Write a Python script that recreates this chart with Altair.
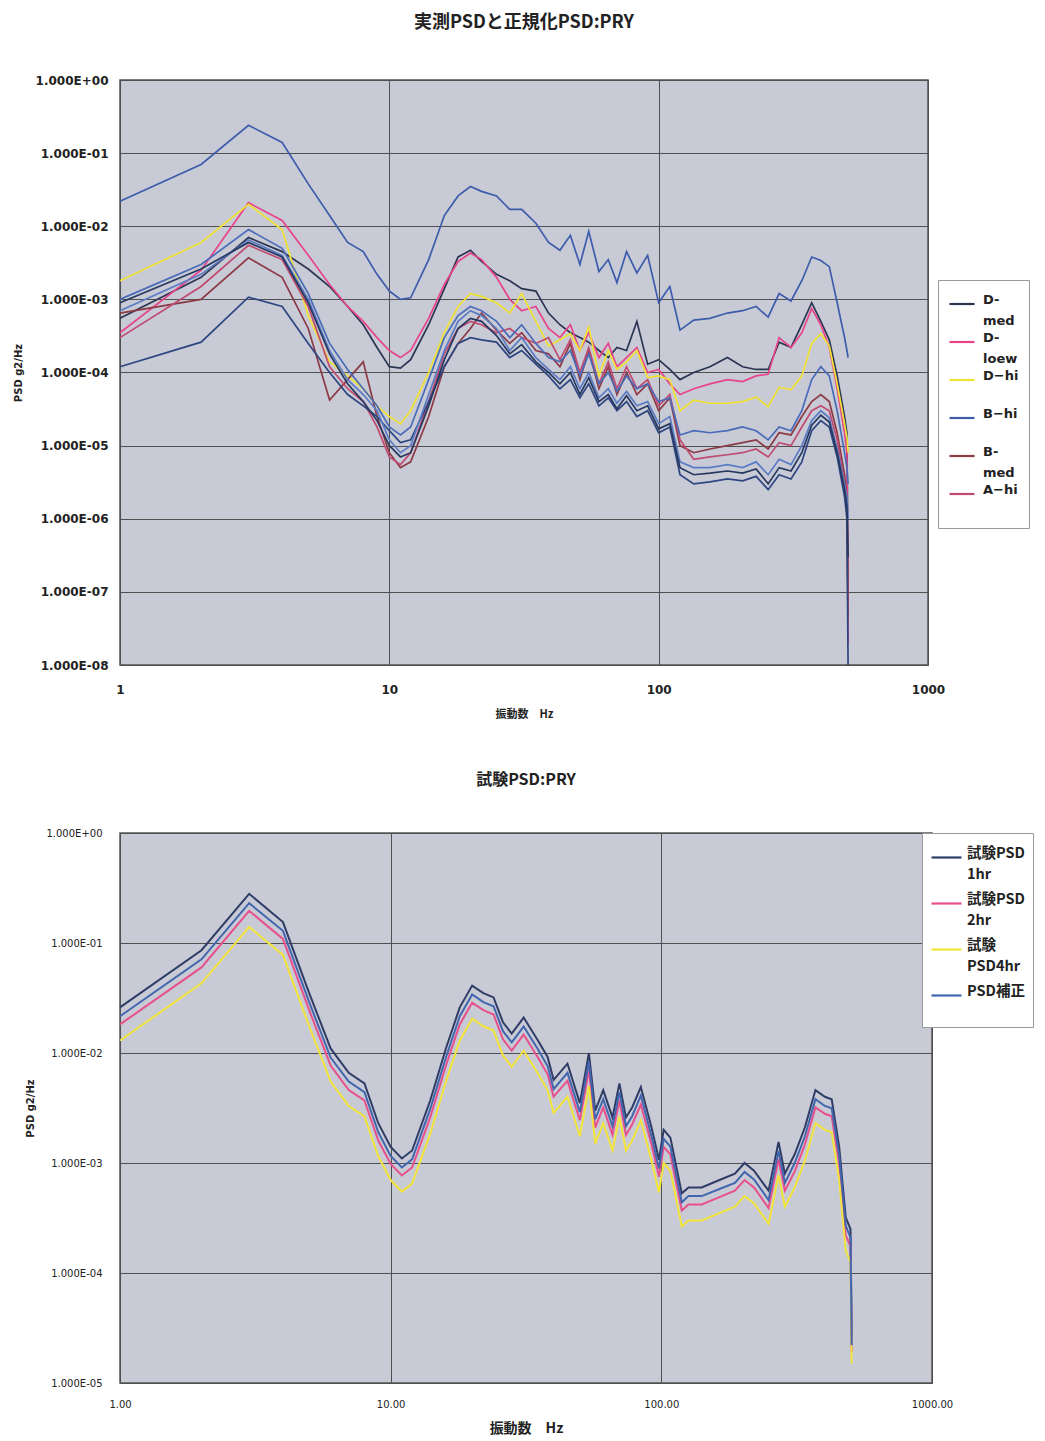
import altair as alt
import pandas as pd

# ---------------- top chart data (実測PSDと正規化PSD) ----------------
F_TOP = [1, 2, 3, 4, 5, 6, 7, 8, 9, 10,
         11, 12, 14, 16, 18, 20, 22, 25, 28, 31,
         35, 39, 43, 47, 51, 55, 60, 65, 70, 76,
         83, 91, 100, 110, 120, 135, 155, 180, 205, 230,
         255, 280, 310, 340, 370, 400, 430, 460, 490, 500,
         505]

B_HI = [2.2e-2, 7.0e-2, 2.4e-1, 1.4e-1, 3.8e-2, 1.4e-2, 6.0e-3, 4.5e-3, 2.2e-3, 1.3e-3,
        1.0e-3, 1.05e-3, 3.5e-3, 1.4e-2, 2.6e-2, 3.5e-2, 3.0e-2, 2.6e-2, 1.7e-2, 1.7e-2,
        1.1e-2, 6.0e-3, 4.7e-3, 7.5e-3, 3.0e-3, 8.5e-3, 2.4e-3, 3.5e-3, 1.7e-3, 4.5e-3,
        2.3e-3, 4.0e-3, 9.0e-4, 1.5e-3, 3.8e-4, 5.2e-4, 5.5e-4, 6.5e-4, 7.0e-4, 8.0e-4,
        5.7e-4, 1.2e-3, 9.5e-4, 1.8e-3, 3.8e-3, 3.4e-3, 2.8e-3, 9.0e-4, 3.0e-4, 2.0e-4,
        1.6e-4]
D_MED = [5.5e-4, 2.0e-3, 7.0e-3, 4.5e-3, 2.6e-3, 1.5e-3, 8.0e-4, 4.5e-4, 2.2e-4, 1.2e-4,
         1.15e-4, 1.5e-4, 4.5e-4, 1.4e-3, 3.8e-3, 4.7e-3, 3.3e-3, 2.2e-3, 1.8e-3, 1.4e-3,
         1.3e-3, 6.5e-4, 4.5e-4, 3.5e-4, 3.0e-4, 2.6e-4, 2.0e-4, 1.6e-4, 2.2e-4, 2.0e-4,
         5.0e-4, 1.3e-4, 1.5e-4, 1.1e-4, 8.0e-5, 1.0e-4, 1.2e-4, 1.6e-4, 1.2e-4, 1.1e-4,
         1.1e-4, 2.6e-4, 2.2e-4, 4.5e-4, 9.0e-4, 5.0e-4, 2.8e-4, 9.0e-5, 2.5e-5, 1.5e-5,
         1.0e-7]
D_LOEW = [3.5e-4, 2.5e-3, 2.1e-2, 1.2e-2, 4.0e-3, 1.6e-3, 8.0e-4, 5.0e-4, 3.0e-4, 2.0e-4,
          1.6e-4, 2.0e-4, 5.5e-4, 1.6e-3, 3.3e-3, 4.3e-3, 3.5e-3, 2.0e-3, 1.0e-3, 7.0e-4,
          8.0e-4, 4.0e-4, 3.0e-4, 4.5e-4, 2.0e-4, 3.5e-4, 1.6e-4, 2.5e-4, 1.2e-4, 1.6e-4,
          2.2e-4, 1.0e-4, 1.1e-4, 7.0e-5, 5.0e-5, 6.0e-5, 7.0e-5, 8.0e-5, 7.5e-5, 9.0e-5,
          9.5e-5, 3.0e-4, 2.2e-4, 3.5e-4, 7.5e-4, 4.5e-4, 2.2e-4, 6.0e-5, 1.5e-5, 8.0e-6,
          2.0e-8]
D_HI = [1.8e-3, 6.0e-3, 2.0e-2, 9.0e-3, 6.0e-4, 1.4e-4, 9.0e-5, 6.0e-5, 3.5e-5, 2.5e-5,
        2.0e-5, 3.0e-5, 1.0e-4, 3.5e-4, 8.0e-4, 1.2e-3, 1.1e-3, 9.0e-4, 6.5e-4, 1.2e-3,
        5.0e-4, 2.3e-4, 2.8e-4, 3.4e-4, 2.0e-4, 4.2e-4, 9.0e-5, 2.0e-4, 1.1e-4, 1.4e-4,
        2.0e-4, 8.5e-5, 9.0e-5, 8.0e-5, 3.0e-5, 4.2e-5, 3.8e-5, 3.8e-5, 4.0e-5, 4.6e-5,
        3.4e-5, 6.3e-5, 5.8e-5, 9.0e-5, 2.5e-4, 3.4e-4, 2.3e-4, 7.0e-5, 2.0e-5, 1.3e-5,
        8.0e-6]
B_MED = [6.5e-4, 1.0e-3, 3.7e-3, 2.0e-3, 4.0e-4, 4.2e-5, 8.0e-5, 1.4e-4, 2.5e-5, 8.0e-6,
         5.0e-6, 6.0e-6, 2.5e-5, 1.2e-4, 2.5e-4, 4.0e-4, 6.5e-4, 3.8e-4, 2.5e-4, 3.5e-4,
         2.0e-4, 1.8e-4, 1.2e-4, 2.5e-4, 8.0e-5, 2.0e-4, 6.0e-5, 1.2e-4, 5.0e-5, 1.0e-4,
         5.0e-5, 7.0e-5, 3.0e-5, 4.5e-5, 1.0e-5, 8.0e-6, 9.0e-6, 1.0e-5, 1.1e-5, 1.2e-5,
         9.0e-6, 1.5e-5, 1.4e-5, 2.5e-5, 4.0e-5, 5.0e-5, 4.0e-5, 1.5e-5, 4.0e-6, 2.0e-6,
         5.0e-8]
A_HI = [3.0e-4, 1.5e-3, 5.5e-3, 3.5e-3, 8.0e-4, 1.2e-4, 6.0e-5, 4.0e-5, 1.8e-5, 7.0e-6,
        5.5e-6, 8.0e-6, 4.0e-5, 1.8e-4, 4.0e-4, 5.0e-4, 4.5e-4, 3.5e-4, 4.0e-4, 3.0e-4,
        2.5e-4, 3.0e-4, 1.5e-4, 2.8e-4, 1.0e-4, 2.2e-4, 7.0e-5, 1.4e-4, 6.0e-5, 1.2e-4,
        6.0e-5, 8.0e-5, 3.5e-5, 5.0e-5, 1.2e-5, 6.5e-6, 7.0e-6, 7.5e-6, 8.0e-6, 9.0e-6,
        7.0e-6, 1.1e-5, 1.0e-5, 1.8e-5, 3.0e-5, 3.5e-5, 3.0e-5, 1.2e-5, 3.0e-6, 1.5e-6,
        4.0e-8]
A_MED = [1.0e-3, 3.0e-3, 9.0e-3, 5.0e-3, 1.2e-3, 2.5e-4, 1.1e-4, 6.0e-5, 3.5e-5, 1.8e-5,
         1.4e-5, 1.8e-5, 8.0e-5, 3.0e-4, 6.0e-4, 8.0e-4, 7.0e-4, 5.0e-4, 3.0e-4, 4.5e-4,
         2.5e-4, 1.6e-4, 1.4e-4, 2.0e-4, 9.0e-5, 1.8e-4, 7.0e-5, 1.0e-4, 5.5e-5, 9.0e-5,
         6.0e-5, 7.0e-5, 4.0e-5, 4.5e-5, 1.4e-5, 1.6e-5, 1.5e-5, 1.6e-5, 1.8e-5, 1.6e-5,
         1.2e-5, 1.8e-5, 1.6e-5, 3.0e-5, 8.0e-5, 1.2e-4, 9.0e-5, 3.0e-5, 8.0e-6, 5.0e-6,
         3.0e-6]
A_LOW = [1.2e-4, 2.6e-4, 1.07e-3, 8.0e-4, 2.5e-4, 1.0e-4, 5.0e-5, 3.5e-5, 2.5e-5, 1.6e-5,
         1.1e-5, 1.2e-5, 4.0e-5, 1.2e-4, 2.5e-4, 3.0e-4, 2.8e-4, 2.6e-4, 1.6e-4, 2.0e-4,
         1.3e-4, 9.0e-5, 6.0e-5, 8.0e-5, 4.5e-5, 7.0e-5, 3.5e-5, 4.5e-5, 3.0e-5, 4.0e-5,
         2.5e-5, 3.0e-5, 1.5e-5, 1.8e-5, 4.0e-6, 3.0e-6, 3.2e-6, 3.5e-6, 3.3e-6, 3.8e-6,
         2.5e-6, 4.0e-6, 3.5e-6, 6.0e-6, 1.6e-5, 2.2e-5, 1.8e-5, 7.0e-6, 2.0e-6, 1.0e-6,
         1.0e-8]
B_LOW = [7.0e-4, 2.2e-3, 6.5e-3, 4.0e-3, 1.0e-3, 2.0e-4, 8.0e-5, 5.0e-5, 3.0e-5, 1.2e-5,
         8.0e-6, 1.0e-5, 5.0e-5, 2.0e-4, 5.0e-4, 7.0e-4, 6.0e-4, 4.0e-4, 2.0e-4, 3.0e-4,
         1.6e-4, 1.1e-4, 8.0e-5, 1.2e-4, 6.0e-5, 1.0e-4, 4.5e-5, 6.0e-5, 3.8e-5, 5.5e-5,
         3.5e-5, 4.0e-5, 2.0e-5, 2.5e-5, 6.0e-6, 5.0e-6, 5.0e-6, 5.5e-6, 5.0e-6, 6.0e-6,
         4.0e-6, 6.5e-6, 5.5e-6, 1.0e-5, 2.2e-5, 3.0e-5, 2.4e-5, 9.0e-6, 3.0e-6, 2.0e-6,
         1.0e-6]
C_HI = [9.0e-4, 2.6e-3, 6.0e-3, 3.8e-3, 9.0e-4, 1.8e-4, 7.0e-5, 4.0e-5, 2.2e-5, 1.0e-5,
        7.0e-6, 8.0e-6, 3.5e-5, 1.5e-4, 4.0e-4, 5.5e-4, 5.0e-4, 3.2e-4, 1.8e-4, 2.4e-4,
        1.4e-4, 1.0e-4, 7.0e-5, 1.0e-4, 5.0e-5, 8.5e-5, 4.0e-5, 5.0e-5, 3.2e-5, 4.8e-5,
        3.0e-5, 3.5e-5, 1.7e-5, 2.0e-5, 5.0e-6, 4.0e-6, 4.2e-6, 4.5e-6, 4.2e-6, 4.8e-6,
        3.0e-6, 5.0e-6, 4.5e-6, 8.0e-6, 1.9e-5, 2.6e-5, 2.1e-5, 8.0e-6, 2.5e-6, 1.5e-6,
        3.0e-7]

TOP_NAMES = ["D-med", "D-loew", "D-hi", "B-hi", "B-med", "A-hi",
             "A-med", "A-low", "B-low", "C-hi"]
TOP_VALUES = [D_MED, D_LOEW, D_HI, B_HI, B_MED, A_HI, A_MED, A_LOW, B_LOW, C_HI]
TOP_COLORS = ["#2b3552", "#e8448a", "#f0e232", "#3d5cab", "#8c3a45", "#c04a70",
              "#4a6cb8", "#2d4680", "#5b7cc4", "#26385f"]
TOP_LEGEND_LINES = {"D-med": ["D-", "med"], "D-loew": ["D-", "loew"],
                    "D-hi": ["D−hi", ""], "B-hi": ["B−hi", ""],
                    "B-med": ["B-", "med"], "A-hi": ["A−hi", ""]}
TOP_Y_TICKS = [1, 1e-1, 1e-2, 1e-3, 1e-4, 1e-5, 1e-6, 1e-7, 1e-8]

# ---------------- bottom chart data (試験PSD) ----------------
F_BOT = [1, 2, 3, 4, 5, 6, 7, 8, 9, 10,
         11, 12, 14, 16, 18, 20, 22, 24, 26, 28,
         31, 35, 38, 40, 45, 50, 54, 57, 61, 66,
         70, 74, 78, 84, 92, 98, 102, 108, 112, 119,
         126, 141, 164, 187, 203, 220, 249, 271, 286, 311,
         339, 371, 402, 426, 454, 480, 500, 505]
PSD_1HR = [2.6e-2, 8.6e-2, 2.8e-1, 1.55e-1, 3.5e-2, 1.1e-2, 6.6e-3, 5.3e-3, 2.3e-3, 1.4e-3,
           1.1e-3, 1.3e-3, 3.7e-3, 1.1e-2, 2.6e-2, 4.1e-2, 3.5e-2, 3.2e-2, 1.9e-2, 1.5e-2,
           2.1e-2, 1.3e-2, 9.2e-3, 5.7e-3, 8.0e-3, 3.5e-3, 1.0e-2, 3.0e-3, 4.6e-3, 2.6e-3,
           5.3e-3, 2.6e-3, 3.2e-3, 4.9e-3, 2.1e-3, 1.07e-3, 2.0e-3, 1.7e-3, 1.1e-3, 5.3e-4,
           6.0e-4, 6.0e-4, 7.0e-4, 8.0e-4, 1.0e-3, 8.5e-4, 5.6e-4, 1.55e-3, 8.0e-4, 1.2e-3,
           2.1e-3, 4.6e-3, 4.0e-3, 3.8e-3, 1.4e-3, 3.2e-4, 2.5e-4, 2.6e-5]
PSD_HOSEI = [2.16e-2, 7.1e-2, 2.3e-1, 1.29e-1, 2.9e-2, 9.1e-3, 5.5e-3, 4.4e-3, 1.9e-3, 1.16e-3,
             9.1e-4, 1.08e-3, 3.1e-3, 9.1e-3, 2.16e-2, 3.4e-2, 2.9e-2, 2.66e-2, 1.58e-2, 1.25e-2,
             1.74e-2, 1.08e-2, 7.6e-3, 4.7e-3, 6.6e-3, 2.9e-3, 8.3e-3, 2.5e-3, 3.8e-3, 2.16e-3,
             4.4e-3, 2.16e-3, 2.66e-3, 4.1e-3, 1.74e-3, 8.9e-4, 1.66e-3, 1.41e-3, 9.1e-4, 4.4e-4,
             5.0e-4, 5.0e-4, 5.8e-4, 6.6e-4, 8.3e-4, 7.1e-4, 4.6e-4, 1.29e-3, 6.6e-4, 1.0e-3,
             1.74e-3, 3.8e-3, 3.3e-3, 3.15e-3, 1.16e-3, 2.7e-4, 2.1e-4, 2.2e-5]
PSD_2HR = [1.82e-2, 6.0e-2, 1.96e-1, 1.09e-1, 2.45e-2, 7.7e-3, 4.6e-3, 3.7e-3, 1.6e-3, 9.8e-4,
           7.7e-4, 9.1e-4, 2.6e-3, 7.7e-3, 1.82e-2, 2.87e-2, 2.45e-2, 2.24e-2, 1.33e-2, 1.05e-2,
           1.47e-2, 9.1e-3, 6.4e-3, 4.0e-3, 5.6e-3, 2.45e-3, 7.0e-3, 2.1e-3, 3.2e-3, 1.8e-3,
           3.7e-3, 1.8e-3, 2.24e-3, 3.4e-3, 1.47e-3, 7.5e-4, 1.4e-3, 1.2e-3, 7.7e-4, 3.7e-4,
           4.2e-4, 4.2e-4, 4.9e-4, 5.6e-4, 7.0e-4, 6.0e-4, 3.9e-4, 1.08e-3, 5.6e-4, 8.4e-4,
           1.47e-3, 3.2e-3, 2.8e-3, 2.66e-3, 9.8e-4, 2.2e-4, 1.75e-4, 1.9e-5]
PSD_4HR = [1.3e-2, 4.3e-2, 1.4e-1, 7.8e-2, 1.75e-2, 5.5e-3, 3.3e-3, 2.65e-3, 1.15e-3, 7.0e-4,
           5.5e-4, 6.5e-4, 1.85e-3, 5.5e-3, 1.3e-2, 2.05e-2, 1.75e-2, 1.6e-2, 9.5e-3, 7.5e-3,
           1.05e-2, 6.5e-3, 4.6e-3, 2.85e-3, 4.0e-3, 1.75e-3, 5.0e-3, 1.5e-3, 2.3e-3, 1.3e-3,
           2.65e-3, 1.3e-3, 1.6e-3, 2.45e-3, 1.05e-3, 5.4e-4, 1.0e-3, 8.5e-4, 5.5e-4, 2.65e-4,
           3.0e-4, 3.0e-4, 3.5e-4, 4.0e-4, 5.0e-4, 4.3e-4, 2.8e-4, 7.8e-4, 4.0e-4, 6.0e-4,
           1.05e-3, 2.3e-3, 2.0e-3, 1.9e-3, 7.0e-4, 1.6e-4, 1.25e-4, 1.5e-5]

BOT_NAMES = ["試験PSD1hr", "試験PSD2hr", "試験PSD4hr", "PSD補正"]
BOT_VALUES = [PSD_1HR, PSD_2HR, PSD_4HR, PSD_HOSEI]
BOT_COLORS = ["#2f3d66", "#e8508c", "#f2e43a", "#4266ad"]
BOT_LEGEND_LINES = {"試験PSD1hr": ["試験PSD", "1hr"], "試験PSD2hr": ["試験PSD", "2hr"],
                    "試験PSD4hr": ["試験", "PSD4hr"], "PSD補正": ["PSD補正", ""]}
BOT_Y_TICKS = [1, 1e-1, 1e-2, 1e-3, 1e-4, 1e-5]
X_TICKS = [1, 10, 100, 1000]

JP = "Noto Sans CJK JP"
NUM = "DejaVu Sans"

for v in TOP_VALUES:
    assert len(v) == len(F_TOP)
for v in BOT_VALUES:
    assert len(v) == len(F_BOT)

top_df = pd.DataFrame([
    {"freq": f, "psd": p, "series": n}
    for n, vals in zip(TOP_NAMES, TOP_VALUES) for f, p in zip(F_TOP, vals)
])
bot_df = pd.DataFrame([
    {"freq": f, "psd": p, "series": n}
    for n, vals in zip(BOT_NAMES, BOT_VALUES) for f, p in zip(F_BOT, vals)
])


def multiline(mapping):
    expr = "datum.label"
    for k, lines in mapping.items():
        arr = "[" + ",".join("'" + s + "'" for s in lines) + "]"
        expr = f"datum.label === '{k}' ? {arr} : ({expr})"
    return expr


EXP = "round(log(datum.value)/LN10)"
YLAB = f"'1.000E' + ({EXP} >= 0 ? '+' : '-') + (abs({EXP}) < 10 ? '0' : '') + abs({EXP})"

top = alt.Chart(top_df).mark_line(strokeWidth=1.7).encode(
    x=alt.X("freq:Q",
            scale=alt.Scale(type="log", domain=[1, 1000], nice=False),
            axis=alt.Axis(values=X_TICKS, labelExpr="format(datum.value, 'd')",
                          labelFlush=False, labelPadding=19, labelFontSize=12,
                          labelFont=NUM, labelFontWeight="bold",
                          title="振動数　Hz", titleFont=JP, titleFontSize=11,
                          titleFontWeight="bold", titleY=49, titleBaseline="middle")),
    y=alt.Y("psd:Q",
            scale=alt.Scale(type="log", domain=[1e-8, 1], nice=False),
            axis=alt.Axis(values=TOP_Y_TICKS, labelExpr=YLAB, labelFlush=False,
                          labelPadding=12, labelFontSize=12, labelFont=NUM,
                          labelFontWeight="bold",
                          title="PSD  g2/Hz", titleFont=NUM, titleFontSize=10,
                          titleFontWeight="bold", titleX=-102, titleBaseline="middle")),
    color=alt.Color("series:N",
                    scale=alt.Scale(domain=TOP_NAMES, range=TOP_COLORS),
                    legend=alt.Legend(values=TOP_NAMES[:6], orient="none",
                                      legendX=818, legendY=200, title=None,
                                      symbolType="stroke", symbolSize=625,
                                      symbolStrokeWidth=2.2,
                                      labelExpr=multiline(TOP_LEGEND_LINES),
                                      labelBaseline="alphabetic", labelFontSize=13,
                                      labelFont=NUM, labelFontWeight="bold",
                                      labelColor="#222", labelOffset=7,
                                      rowPadding=0, padding=10,
                                      fillColor="white", strokeColor="#999")),
).properties(
    width=808, height=585,
    title=alt.TitleParams("実測PSDと正規化PSD:PRY", font=JP, fontSize=18,
                          fontWeight="bold", anchor="middle", offset=42, color="#222"),
)

bottom = alt.Chart(bot_df).mark_line(strokeWidth=2).encode(
    x=alt.X("freq:Q",
            scale=alt.Scale(type="log", domain=[1, 1000], nice=False),
            axis=alt.Axis(values=X_TICKS, labelExpr="format(datum.value, '.2f')",
                          labelFlush=False, labelPadding=16, labelFontSize=10,
                          labelFont=NUM,
                          title="振動数　Hz", titleFont=JP, titleFontSize=14,
                          titleFontWeight="bold", titleY=45, titleBaseline="middle")),
    y=alt.Y("psd:Q",
            scale=alt.Scale(type="log", domain=[1e-5, 1], nice=False),
            axis=alt.Axis(values=BOT_Y_TICKS, labelExpr=YLAB, labelFlush=False,
                          labelPadding=18, labelFontSize=10, labelFont=NUM,
                          title="PSD  g2/Hz", titleFont=NUM, titleFontSize=10,
                          titleFontWeight="bold", titleX=-90, titleBaseline="middle")),
    color=alt.Color("series:N",
                    scale=alt.Scale(domain=BOT_NAMES, range=BOT_COLORS),
                    legend=alt.Legend(orient="none", legendX=802, legendY=0, title=None,
                                      symbolType="stroke", symbolSize=900,
                                      symbolStrokeWidth=2.2,
                                      labelExpr=multiline(BOT_LEGEND_LINES),
                                      labelBaseline="alphabetic", labelFontSize=14.5,
                                      labelFont=JP, labelFontWeight="bold",
                                      labelColor="#222", labelOffset=4,
                                      rowPadding=6, padding=8,
                                      fillColor="white", strokeColor="#999")),
).properties(
    width=812, height=550,
    title=alt.TitleParams("試験PSD:PRY", font=JP, fontSize=16,
                          fontWeight="bold", anchor="middle", offset=40, color="#222"),
)

chart = alt.vconcat(top, bottom, spacing=168, bounds="flush").resolve_scale(
    color="independent"
).properties(
    padding={"left": 12, "top": 13, "right": 2, "bottom": 2},
    background="white",
).configure(
    style={"guide-label": {"lineHeight": 21}}
).configure_view(
    fill="#c8cad6", stroke="#555555", strokeWidth=1.5
).configure_axis(
    grid=True, gridColor="#505050", gridOpacity=1, gridWidth=1,
    domain=False, ticks=False, labelColor="#222222", titleColor="#222222",
)

chart.save("out.html", embed_options={"renderer": "svg", "actions": False})
